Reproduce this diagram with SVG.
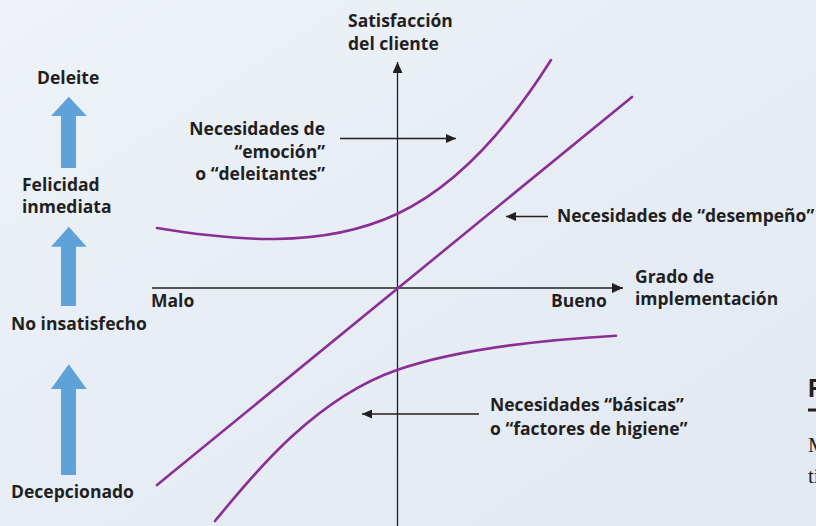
<svg xmlns="http://www.w3.org/2000/svg" width="816" height="526" viewBox="0 0 816 526">
  <defs>
    <linearGradient id="bg" x1="0" y1="0" x2="1" y2="1">
      <stop offset="0" stop-color="#eef2f8"/>
      <stop offset="0.5" stop-color="#e7edf5"/>
      <stop offset="1" stop-color="#e2e9f2"/>
    </linearGradient>
    <marker id="ah" markerUnits="userSpaceOnUse" markerWidth="11" markerHeight="10" refX="11" refY="5" orient="auto">
      <path d="M0,0 L11,5 L0,10 Z" fill="#231f20"/>
    </marker>
    <marker id="ahs" markerUnits="userSpaceOnUse" markerWidth="10" markerHeight="9" refX="10" refY="4.5" orient="auto">
      <path d="M0,0 L10,4.5 L0,9 Z" fill="#231f20"/>
    </marker>
  </defs>
  <style>
    .t { font-family: "Open Sans", "Noto Sans", "DejaVu Sans", sans-serif; font-weight: 700; font-size: 17.5px; fill: #231f20; }
    .ax { stroke: #231f20; stroke-width: 1.3; fill: none; }
    .ann { stroke: #231f20; stroke-width: 1.3; fill: none; }
    .curve { stroke: #8b2e96; stroke-width: 2.6; fill: none; stroke-linecap: round; }
    .blue { fill: #5fa1d9; }
  </style>
  <rect x="0" y="0" width="816" height="526" fill="url(#bg)"/>

  <g id="scale">
    <g id="deleite">
      <text class="t" x="37" y="84">Deleite</text>
    </g>
    <g id="arrow-1">
      <polygon class="blue" points="68.8,96.7 86.7,116 76,116 76,168 61,168 61,116 51,116"/>
    </g>
    <g id="felicidad">
      <text class="t" x="22" y="191">Felicidad</text>
      <text class="t" x="22" y="213">inmediata</text>
    </g>
    <g id="arrow-2">
      <polygon class="blue" points="68.8,226.7 86.7,246.7 76,246.7 76,306 61,306 61,246.7 51,246.7"/>
    </g>
    <g id="no-insatisfecho">
      <text class="t" x="11" y="330">No insatisfecho</text>
    </g>
    <g id="arrow-3">
      <polygon class="blue" points="68.8,364.3 86.7,389 76,389 76,475 61,475 61,389 51,389"/>
    </g>
    <g id="decepcionado">
      <text class="t" x="11" y="498">Decepcionado</text>
    </g>
  </g>

  <g id="connectors">
    <line class="ax" x1="397.5" y1="526" x2="397.5" y2="62" marker-end="url(#ah)"/>
    <line class="ax" x1="152" y1="288" x2="623" y2="288" marker-end="url(#ah)"/>
    <line class="ann" x1="340" y1="138.5" x2="456" y2="138.5" marker-end="url(#ahs)"/>
    <line class="ann" x1="548" y1="216.5" x2="506" y2="216.5" marker-end="url(#ahs)"/>
    <line class="ann" x1="479" y1="414" x2="362" y2="414" marker-end="url(#ahs)"/>
  </g>

  <g id="curve-delight">
    <path class="curve" d="M157,228 C230,240 320,250 397,214 C460,184.5 510,125 551,60"/>
  </g>
  <g id="curve-performance">
    <line class="curve" x1="157" y1="485" x2="632" y2="97"/>
  </g>
  <g id="curve-basic">
    <path class="curve" d="M215,521 C245,485 310,400 397,370 C457,349.3 540,340 616,335.7"/>
  </g>

  <g id="y-axis-label">
    <text class="t" x="348" y="27">Satisfacción</text>
    <text class="t" x="348" y="50">del cliente</text>
  </g>
  <g id="x-axis-labels">
    <text class="t" x="151" y="307">Malo</text>
    <text class="t" x="551" y="307">Bueno</text>
    <text class="t" x="635" y="283">Grado de</text>
    <text class="t" x="635" y="305">implementación</text>
  </g>
  <g id="label-delight">
    <text class="t" x="325" y="135" text-anchor="end">Necesidades de</text>
    <text class="t" x="325" y="158" text-anchor="end">“emoción”</text>
    <text class="t" x="325" y="180" text-anchor="end">o “deleitantes”</text>
  </g>
  <g id="label-performance">
    <text class="t" x="557" y="222">Necesidades de “desempeño”</text>
  </g>
  <g id="label-basic">
    <text class="t" x="490" y="411">Necesidades “básicas”</text>
    <text class="t" x="490" y="435">o “factores de higiene”</text>
  </g>

  <g id="caption-edge">
    <text x="808" y="397" font-family="Liberation Sans, Arial, sans-serif" font-weight="700" font-size="25" fill="#231f20">F</text>
    <rect x="808" y="408.5" width="8" height="3" fill="#231f20"/>
    <text x="808" y="452" font-family="Liberation Serif, Times New Roman, serif" font-size="21" fill="#231f20">M</text>
    <text x="808" y="483" font-family="Liberation Serif, Times New Roman, serif" font-size="21" fill="#231f20">ti</text>
  </g>
</svg>
